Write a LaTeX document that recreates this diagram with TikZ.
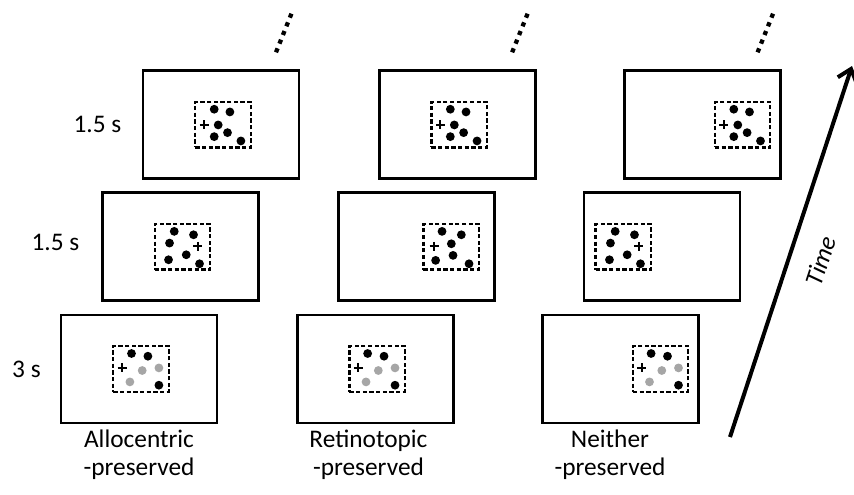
\documentclass[tikz,border=0pt]{standalone}
\usepackage{fontspec}
\setmainfont{Carlito}
\usetikzlibrary{positioning,arrows.meta}

\begin{document}
\begin{tikzpicture}[x=0.75pt, y=-0.75pt, font=\fontsize{19}{21}\selectfont,
  screen/.style = {draw, line width=2.1pt, minimum width=117pt, minimum height=81pt, inner sep=0pt},
  patch/.style = {draw, line width=1.7pt, dash pattern=on 3.2pt off 1.8pt, minimum width=41.5pt, minimum height=34pt, inner sep=0pt},
  lab/.style = {inner sep=1pt},
  more/.style = {line width=3.2pt, dash pattern=on 3.2pt off 3.8pt},
  timeline/.style = {line width=3pt, -{Straight Barb[length=9pt, width=15pt]}},
  pics/fixcross/.style = {code={\draw[line width=1.4pt] (-4.5,0) -- (4.5,0) (0,-4.5) -- (0,4.5);}},
  pics/sample/.style = {code={
    \fill (19.3,8.3) circle[radius=3.3pt] (35.7,11) circle[radius=3.3pt] (46.7,40) circle[radius=3.3pt];
    \fill[black!35] (30,25.3) circle[radius=3.3pt] (46.7,22.7) circle[radius=3.3pt] (17.7,36.7) circle[radius=3.3pt];
    \pic at (10,22.7) {fixcross};}},
  pics/probeA/.style = {code={
    \fill (20.7,8.3) circle[radius=3.3pt] (40,11.7) circle[radius=3.3pt] (16,20) circle[radius=3.3pt]
          (15,36.7) circle[radius=3.3pt] (32.7,31.7) circle[radius=3.3pt] (46,40.7) circle[radius=3.3pt];
    \pic at (44.3,23.3) {fixcross};}},
  pics/probeB/.style = {code={
    \fill (19.7,8.3) circle[radius=3.3pt] (39,11.7) circle[radius=3.3pt] (29,20.7) circle[radius=3.3pt]
          (30.7,32.3) circle[radius=3.3pt] (13.3,37.3) circle[radius=3.3pt] (46.7,40.7) circle[radius=3.3pt];
    \pic at (11.7,23.3) {fixcross};}},
  pics/probeC/.style = {code={
    \fill (20,8.3) circle[radius=3.3pt] (35.7,11) circle[radius=3.3pt] (24,24) circle[radius=3.3pt]
          (33.3,31.7) circle[radius=3.3pt] (20,35.7) circle[radius=3.3pt] (46.7,40) circle[radius=3.3pt];
    \pic at (10,24) {fixcross};}}]
\useasboundingbox (0,0) rectangle (854,494);

% screens
\node[screen] (b1) at (139,369) {};
\node[screen] (b2) [right=58pt of b1] {};
\node[screen] (b3) [right=65pt of b2] {};
\node[screen] (m1) [above=8.5pt of b1, xshift=31pt] {};
\node[screen] (m2) [above=8.5pt of b2, xshift=31pt] {};
\node[screen] (m3) [above=8.5pt of b3, xshift=31pt] {};
\node[screen] (t1) [above=8.5pt of m1, xshift=30.5pt] {};
\node[screen] (t2) [above=8.5pt of m2, xshift=30.5pt] {};
\node[screen] (t3) [above=8.5pt of m3, xshift=30.5pt] {};

% dashed patches
\node[patch] (pb1) at ([xshift=1.5pt]b1) {};
\node[patch] (pb2) at ([xshift=1.5pt]b2) {};
\node[patch] (pb3) at ([xshift=30pt]b3) {};
\node[patch] (pm1) at ([xshift=1.5pt]m1) {};
\node[patch] (pm2) at ([xshift=26pt]m2) {};
\node[patch] (pm3) at ([xshift=-29pt]m3) {};
\node[patch] (pt1) at ([xshift=1.5pt]t1) {};
\node[patch] (pt2) at ([xshift=1.5pt]t2) {};
\node[patch] (pt3) at ([xshift=30pt]t3) {};

\pic at (pb1.north west) {sample};
\pic at (pb2.north west) {sample};
\pic at (pb3.north west) {sample};
\pic at (pm1.north west) {probeA};
\pic at (pm2.north west) {probeB};
\pic at (pm3.north west) {probeA};
\pic at (pt1.north west) {probeC};
\pic at (pt2.north west) {probeC};
\pic at (pt3.north west) {probeC};

% durations
\node[lab] (dt) [left=14pt of t1] {1.5 s};
\node[lab] (dm) [left=15pt of m1, yshift=3pt] {1.5 s};
\node[lab] (db) [left=13pt of b1] {3 s};

% conditions
\node[lab, align=center] (c1) [below=3pt of b1] {Allocentric\\-preserved};
\node[lab, align=center] (c2) [below=3pt of b2, xshift=-5pt] {Retinotopic\\-preserved};
\node[lab, align=center] (c3) [below=3pt of b3, xshift=-8pt] {Neither\\-preserved};

% more trials
\draw[more] ([shift={(55,-17)}]t1.north) -- ++(16,-40);
\draw[more] ([shift={(55,-17)}]t2.north) -- ++(16,-40);
\draw[more] ([shift={(55,-17)}]t3.north) -- ++(16,-40);

% time axis
\coordinate (ts) at (730,437);
\coordinate (te) at (852,66);
\draw[timeline] (ts) -- (te) node[pos=0.5, sloped, below=15pt, inner sep=0pt, font=\fontsize{19}{21}\selectfont\itshape] (tl) {Time};
\end{tikzpicture}
\end{document}
